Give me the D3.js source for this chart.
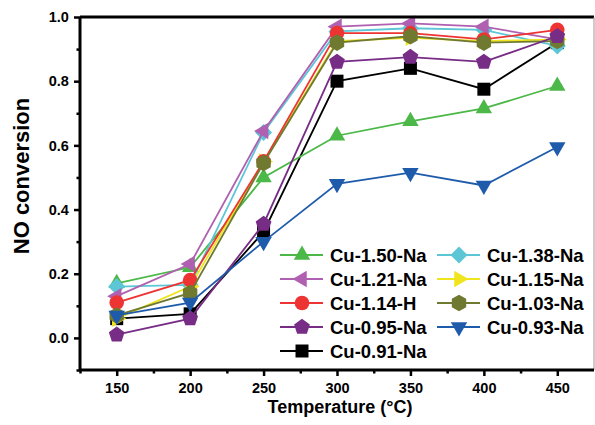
<!DOCTYPE html>
<html><head><meta charset="utf-8">
<script src="https://cdn.jsdelivr.net/npm/d3@7"></script>
<style>body{margin:0;background:#fff}svg{display:block;font-family:"Liberation Sans",Arial,sans-serif}</style>
</head><body><svg id="c" width="595" height="425"></svg>
<script>
const temps = [150, 200, 250, 300, 350, 400, 450];
const xTicks = [150, 200, 250, 300, 350, 400, 450];
const yTicks = [0.0, 0.2, 0.4, 0.6, 0.8, 1.0];
const names = ["Cu-1.50-Na","Cu-1.38-Na","Cu-1.21-Na","Cu-1.15-Na","Cu-1.14-H","Cu-1.03-Na","Cu-0.95-Na","Cu-0.93-Na","Cu-0.91-Na"];
const colors = ["#4cb848","#5cc6d6","#b060b0","#f0e41c","#ee3333","#6f7a30","#772c86","#1e5cab","#000000"];
const shapes = ["up","diamond","left","right","circle","hexagon","pentagon","down","square"];
const vCu150Na = [0.17, 0.22, 0.50, 0.63, 0.675, 0.715, 0.785];
const vCu138Na = [0.16, 0.165, 0.64, 0.955, 0.965, 0.96, 0.91];
const vCu121Na = [0.13, 0.23, 0.645, 0.97, 0.98, 0.97, 0.93];
const vCu115Na = [0.06, 0.16, 0.55, 0.925, 0.935, 0.925, 0.93];
const vCu114H  = [0.11, 0.18, 0.55, 0.95, 0.95, 0.93, 0.96];
const vCu103Na = [0.07, 0.14, 0.545, 0.92, 0.94, 0.92, 0.925];
const vCu095Na = [0.01, 0.06, 0.355, 0.86, 0.875, 0.86, 0.94];
const vCu093Na = [0.07, 0.11, 0.30, 0.48, 0.515, 0.475, 0.595];
const vCu091Na = [0.06, 0.075, 0.33, 0.80, 0.84, 0.775, 0.92];
const seriesVals = [vCu150Na, vCu138Na, vCu121Na, vCu115Na, vCu114H, vCu103Na, vCu095Na, vCu093Na, vCu091Na];
const drawOrder = [8, 0, 1, 2, 3, 4, 5, 6, 7];

const svg = d3.select("#c");
const L = 80, R = 594, T = 17, B = 370;
const x = d3.scaleLinear().domain([125, 475]).range([L, R]);
const y = d3.scaleLinear().domain([-0.1, 1.0]).range([B, T]);

function poly(n, r, rot) {
  const pts = [];
  for (let i = 0; i < n; i++) {
    const a = rot + i * 2 * Math.PI / n;
    pts.push([r * Math.cos(a), r * Math.sin(a)]);
  }
  return "M" + pts.map(p => p[0].toFixed(2) + "," + p[1].toFixed(2)).join("L") + "Z";
}
function shapePath(s) {
  switch (s) {
    case "up": return poly(3, 9.5, -Math.PI / 2);
    case "down": return poly(3, 9.5, Math.PI / 2);
    case "left": return poly(3, 9.5, Math.PI);
    case "right": return poly(3, 9.5, 0);
    case "diamond": return poly(4, 8.5, -Math.PI / 2);
    case "square": return "M-6.5,-6.5L6.5,-6.5L6.5,6.5L-6.5,6.5Z";
    case "pentagon": return poly(5, 8.3, -Math.PI / 2);
    case "hexagon": return poly(6, 8.3, -Math.PI / 2);
    case "circle": return d3.symbol(d3.symbolCircle, Math.PI * 7.3 * 7.3)();
  }
}

// series
const line = d3.line().x((d, i) => x(temps[i])).y(d => y(d));
drawOrder.forEach(k => {
  const vals = seriesVals[k];
  const g = svg.append("g");
  g.append("path").attr("d", line(vals)).attr("fill", "none")
    .attr("stroke", colors[k]).attr("stroke-width", 1.8);
  g.selectAll("path.m").data(vals).enter().append("path").attr("class", "m")
    .attr("d", shapePath(shapes[k]))
    .attr("transform", (d, i) => `translate(${x(temps[i])},${y(d)})`)
    .attr("fill", colors[k]);
});

// frame
svg.append("line").attr("x1", L).attr("x2", R).attr("y1", T).attr("y2", T).attr("stroke", "#000").attr("stroke-width", 3);
svg.append("line").attr("x1", R).attr("x2", R).attr("y1", T).attr("y2", B).attr("stroke", "#999").attr("stroke-width", 1);

// axes
const xAxis = d3.axisBottom(x).tickValues(xTicks).tickSize(6).tickFormat(d3.format("d"));
const gx = svg.append("g").attr("transform", `translate(0,${B})`).call(xAxis);
const xMinor = d3.axisBottom(x).tickValues([125,175,225,275,325,375,425]).tickSize(3.5).tickFormat("");
svg.append("g").attr("transform", `translate(0,${B})`).call(xMinor).select(".domain").remove();
const yAxis = d3.axisLeft(y).tickValues(yTicks).tickSize(6).tickFormat(d3.format(".1f"));
const gy = svg.append("g").attr("transform", `translate(${L},0)`).call(yAxis);
const yMinor = d3.axisLeft(y).tickValues([-0.1, 0.1, 0.3, 0.5, 0.7, 0.9]).tickSize(3.5).tickFormat("");
svg.append("g").attr("transform", `translate(${L},0)`).call(yMinor).select(".domain").remove();
svg.selectAll(".domain").attr("stroke-width", 3);
gx.select(".domain").attr("d", `M${L},0H${R}`);
gy.select(".domain").attr("d", `M0,${B}V${T}`);
svg.selectAll(".tick line").attr("stroke-width", 2.5);
gx.selectAll("text").attr("font-size", 14.5).attr("font-weight", "bold").attr("dy", "0.95em");
gy.selectAll("text").attr("font-size", 14.5).attr("font-weight", "bold").attr("dx", "-0.15em");

// labels
svg.append("text").attr("x", 340).attr("y", 413).attr("text-anchor", "middle")
  .attr("font-size", 18).attr("font-weight", "bold").text("Temperature (°C)");
svg.append("text").attr("transform", "translate(29,176) rotate(-90)").attr("text-anchor", "middle")
  .attr("font-size", 22).attr("font-weight", "bold").text("NO conversion");

// legend
const leg = svg.append("g");
names.forEach((n, k) => {
  const col = k % 2, row = Math.floor(k / 2);
  const lx = col === 0 ? 280 : 437;
  const ly = 255 + row * 24;
  leg.append("line").attr("x1", lx).attr("x2", lx + 43).attr("y1", ly).attr("y2", ly)
    .attr("stroke", colors[k]).attr("stroke-width", 1.8);
  leg.append("path").attr("d", shapePath(shapes[k])).attr("transform", `translate(${lx + 22},${ly})`).attr("fill", colors[k]);
  leg.append("text").attr("x", lx + 50).attr("y", ly).attr("dy", "0.36em")
    .attr("font-size", 18.5).attr("font-weight", "bold").text(n);
});
</script></body></html>
